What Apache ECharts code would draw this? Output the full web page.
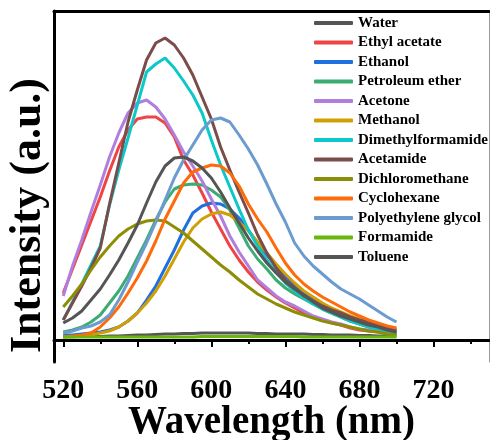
<!DOCTYPE html>
<html>
<head>
<meta charset="utf-8">
<script src="https://cdn.jsdelivr.net/npm/echarts@6/dist/echarts.min.js"></script>
<style>
html,body{margin:0;padding:0;background:#fff}
#main{width:490px;height:440px}
</style>
</head>
<body>
<div id="main"></div>
<script>
//波长 (nm)
var wavelength = [520,525,530,535,540,545,550,555,560,565,570,575,580,585,590,595,600,605,610,615,620,625,630,635,640,645,650,655,660,665,670,675,680,685,690,695,700]
//x轴刻度
var majorTicks = [520,560,600,640,680,720]
var minorTicks = [540,580,620,660,700,740]

//各溶剂荧光强度 (a.u.)
var water = [3.5,3.5,3.5,3.5,3.5,4,4,4.5,5,5,5.5,6,6,6.5,6.5,7,7,7,7,7,7,6.5,6.5,6,6,6,6,5.5,5.5,5,5,5,4.5,4.5,4,4,4]
var ethylAcetate = [47,71,95,119,143,169,193,210,221,223,223,217,203,180,165,147,128,111,94,80,68,58,50,43,37,32,27,23,20,17,15,12,10,9,8,7,6]
var ethanol = [5,5,6,7,8,10,13,19,27,40,54,72,90,110,127,134,137,136,131,122,110,97,85,74,64,55,47,41,35,30,26,22,19,16,13,11,9]
var petroleumEther = [8,10,13,18,25,37,49,64,82,100,120,138,151,155,156,155,150,143,130,112,94,81,71,60,52,46,41,36,31,27,23,19,16,13,11,9,7]
var acetone = [44,74,100,128,155,183,207,227,237,240,233,221,205,188,174,159,141,124,104,88,74,60,52,44,38,34,29,24,21,18,16,13,11,10,9,8,7]
var methanol = [3,3,4,5,7,9,13,19,27,37,49,64,81,98,112,121,126,128,125,118,109,98,87,76,66,57,49,43,37,32,28,24,21,18,15,13,11]
var dmf = [20,38,56,75,94,135,170,202,235,268,276,282,272,259,245,227,200,175,153,131,110,94,80,68,57,49,42,36,31,27,23,19,16,13,11,9,7]
var acetamide = [20,37,54,72,92,136,177,218,250,280,297,302,295,282,265,243,221,193,170,148,127,105,87,72,60,52,44,39,34,30,27,23,20,18,15,12,10]
var dichloromethane = [33,44,56,70,83,94,104,111,116,119,120,119,113,107,99,91,83,75,68,60,53,46,41,36,32,28,25,22,19,17,15,13,11,9,8,6,5]
var cyclohexane = [3,4,5,7,13,22,33,47,62,79,99,121,139,157,168,172,175,174,167,154,136,121,108,92,77,65,56,49,43,38,33,28,24,20,17,14,12]
var peg = [7,9,12,14,18,25,40,58,78,97,118,140,162,180,195,210,220,222,218,205,191,175,156,136,118,97,84,74,66,58,51,46,41,35,29,23,18]
var formamide = [3,3,3,3,3,3,3,3,3,3,3,3,3,3,3,3.5,3.5,3.5,3.5,3.5,3.5,3.5,3.5,3.5,3.5,3.5,3,3,3,3,3,3,3,3,3,3,3]
var toluene = [17,22,29,40,51,65,80,97,115,137,158,174,182,183,179,172,162,148,132,117,102,89,77,67,58,51,45,38,32,28,24,21,18,15,13,10,8]

var names = ['Water','Ethyl acetate','Ethanol','Petroleum ether','Acetone','Methanol','Dimethylformamide','Acetamide','Dichloromethane','Cyclohexane','Polyethylene glycol','Formamide','Toluene']
var values = [water,ethylAcetate,ethanol,petroleumEther,acetone,methanol,dmf,acetamide,dichloromethane,cyclohexane,peg,formamide,toluene]
var colors = ['#555555','#EF4446','#1F6FDF','#3DAC72','#B07EDD','#D19F04','#0CC8C8','#7A4C4A','#8E8E06','#FF6A0A','#6B9BCF','#69B70A','#555555']

var font = 'Liberation Serif'

//生成折线
var series = []
for (var i = 0; i < names.length; i++) {
    var pts = []
    for (var j = 0; j < wavelength.length; j++) {
        pts.push([wavelength[j], values[i][j]])
    }
    series.push({
        name: names[i],
        type: 'line',
        data: pts,
        symbol: 'none',
        smooth: false,
        lineStyle: {width: 3, color: colors[i]},
        itemStyle: {color: colors[i]},
        emphasis: {disabled: true}
    })
}

var option = {
    animation: false,
    color: colors,
    grid: {left: 54, right: 1, top: 11, bottom: 78, outerBoundsMode: 'none', containLabel: false},
    legend: {
        orient: 'vertical',
        left: 309,
        top: 10.5,
        icon: 'roundRect',
        itemWidth: 39,
        itemHeight: 4,
        itemGap: 4.5,
        textStyle: {fontFamily: font, fontWeight: 'bold', fontSize: 15, lineHeight: 15, color: '#000'},
        data: names
    },
    xAxis: [{
        type: 'value',
        min: 515,
        max: 750,
        position: 'bottom',
        name: 'Wavelength (nm)',
        nameLocation: 'middle',
        nameGap: 41,
        nameMoveOverlap: false,
        nameTextStyle: {fontFamily: font, fontWeight: 'bold', fontSize: 39, color: '#000'},
        axisLine: {lineStyle: {color: '#000', width: 3}},
        axisTick: {customValues: majorTicks, length: 7, lineStyle: {width: 2, color: '#000'}},
        axisLabel: {customValues: majorTicks, margin: 15, fontFamily: font, fontWeight: 'bold', fontSize: 28, color: '#000'},
        splitLine: {show: false}
    }, {
        //次刻度
        type: 'value',
        min: 515,
        max: 750,
        position: 'bottom',
        axisLine: {show: false},
        axisTick: {customValues: minorTicks, length: 4, lineStyle: {width: 2, color: '#000'}},
        axisLabel: {show: false},
        splitLine: {show: false}
    }, {
        //上边框
        type: 'value',
        min: 515,
        max: 750,
        position: 'top',
        axisLine: {lineStyle: {color: '#000', width: 3}},
        axisTick: {show: false},
        axisLabel: {show: false},
        splitLine: {show: false}
    }],
    yAxis: [{
        type: 'value',
        min: -22,
        max: 329,
        name: 'Intensity (a.u.)',
        nameLocation: 'middle',
        nameGap: 3,
        nameMoveOverlap: false,
        nameTextStyle: {fontFamily: font, fontWeight: 'bold', fontSize: 44, color: '#000', padding: [0, 58, 0, 0]},
        axisLine: {show: true, lineStyle: {color: '#000', width: 3}},
        axisTick: {show: false},
        axisLabel: {show: false},
        splitLine: {show: false}
    }, {
        //右边框
        type: 'value',
        min: -22,
        max: 329,
        position: 'right',
        axisLine: {show: true, lineStyle: {color: '#999', width: 1}},
        axisTick: {show: false},
        axisLabel: {show: false},
        splitLine: {show: false}
    }],
    series: series
}

var chart = echarts.init(document.getElementById('main'))
chart.setOption(option)
</script>
</body>
</html>
